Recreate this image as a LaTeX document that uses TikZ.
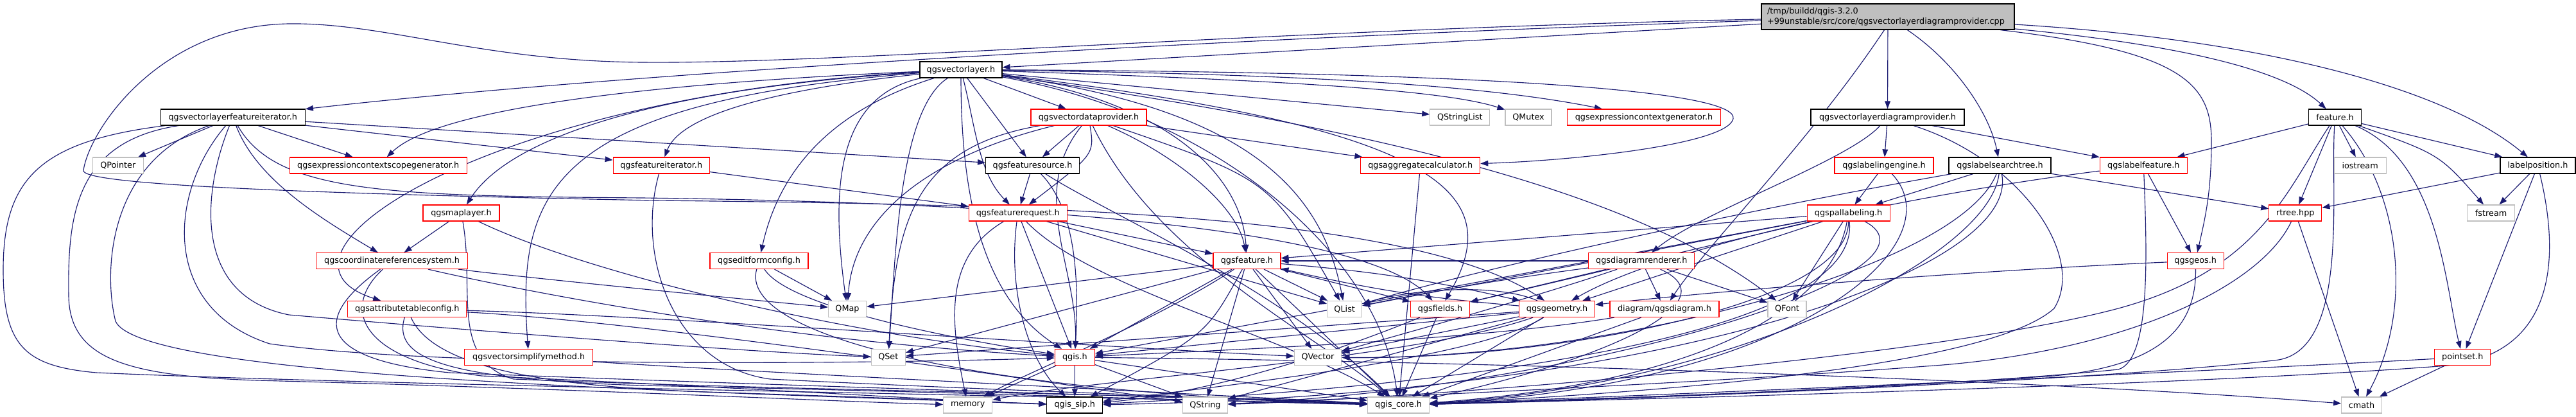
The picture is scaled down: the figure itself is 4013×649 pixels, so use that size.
\documentclass[tikz,border=0pt]{standalone}
\usepackage{fontspec}
\setmainfont{DejaVu Sans}
\usetikzlibrary{arrows.meta}
\pgfdeclarelayer{background}
\pgfsetlayers{background,main}
\definecolor{edgec}{HTML}{191970}
\definecolor{redc}{HTML}{FF0000}
\definecolor{grayc}{HTML}{BFBFBF}
\tikzset{
  box/.style={draw, fill=white, line width=0.9pt, inner sep=0pt, minimum height=18.75pt, font=\fontsize{9.6pt}{11.3pt}\selectfont},
  nb/.style={box, draw=black},
  nr/.style={box, draw=redc},
  ng/.style={box, draw=grayc},
  e/.style={draw=edgec, line width=0.85pt, -{Triangle[length=9pt,width=6.5pt]}},
}
\newcommand\nd[6]{\node[#1, minimum width=#5*0.75pt] (#2) at (#3,#4) {#6};}
\begin{document}
\begin{tikzpicture}[x=0.75pt,y=-0.75pt]
\useasboundingbox (0,0) rectangle (4013,649);
% row 0
\node[nb, fill=grayc, inner xsep=6.75pt, text width=282pt, minimum height=30pt, align=left] (top) at (2941,26) {/tmp/buildd/qgis-3.2.0\\+99unstable/src/core/qgsvectorlayerdiagramprovider.cpp};
% row 1
\nd{nb}{vlayer}{1497}{108.5}{128}{qgsvectorlayer.h}
% row 2
\nd{nb}{vlfi}{362.8}{182.5}{225}{qgsvectorlayerfeatureiterator.h}
\nd{nr}{vdp}{1696}{182.5}{180}{qgsvectordataprovider.h}
\nd{ng}{qstringlist}{2274.3}{182.5}{93}{QStringList}
\nd{ng}{qmutex}{2381}{182.5}{72}{QMutex}
\nd{nr}{exprcg}{2561}{182.5}{239}{qgsexpressioncontextgenerator.h}
\nd{nb}{vldp}{2940.5}{182.5}{239}{qgsvectorlayerdiagramprovider.h}
\nd{nb}{featureh}{3637.6}{182.5}{82}{feature.h}
% row 3
\nd{ng}{qpointer}{183.8}{257.5}{79}{QPointer}
\nd{nr}{scopegen}{589.2}{257.5}{276}{qgsexpressioncontextscopegenerator.h}
\nd{nr}{fiter}{1030.2}{257.5}{150}{qgsfeatureiterator.h}
\nd{nb}{fsource}{1608.6}{257.5}{146}{qgsfeaturesource.h}
\nd{nr}{aggr}{2212.7}{257.5}{186}{qgsaggregatecalculator.h}
\nd{nr}{lengine}{2935}{257.5}{154}{qgslabelingengine.h}
\nd{nb}{lstree}{3115.5}{257.5}{159}{qgslabelsearchtree.h}
\nd{nr}{lfeature}{3339.3}{257.5}{136}{qgslabelfeature.h}
\nd{ng}{iostream}{3676.6}{257.5}{81}{iostream}
\nd{nb}{lposition}{3953.5}{257.5}{117}{labelposition.h}
% row 4
\nd{nr}{maplayer}{718.5}{331.5}{119}{qgsmaplayer.h}
\nd{nr}{frequest}{1585.8}{331.5}{153}{qgsfeaturerequest.h}
\nd{nr}{pallab}{2879.6}{331.5}{129}{qgspallabeling.h}
\nd{nr}{rtree}{3575.8}{331.5}{82}{rtree.hpp}
\nd{ng}{fstream}{3880.6}{331.5}{74}{fstream}
% row 5
\nd{nr}{crs}{610.6}{406}{236}{qgscoordinatereferencesystem.h}
\nd{nr}{editform}{1182.5}{406}{153}{qgseditformconfig.h}
\nd{nr}{qgsfeature}{1942.4}{406}{105}{qgsfeature.h}
\nd{nr}{drenderer}{2557.3}{406}{165}{qgsdiagramrenderer.h}
\nd{nr}{geos}{3420.2}{406}{88}{qgsgeos.h}
% row 6
\nd{nr}{atc}{634.3}{481}{185}{qgsattributetableconfig.h}
\nd{ng}{qmap}{1320}{481}{59}{QMap}
\nd{ng}{qlist}{2094.7}{481}{54}{QList}
\nd{nr}{fields}{2243.6}{481}{92}{qgsfields.h}
\nd{nr}{geometry}{2425.5}{481}{118}{qgsgeometry.h}
\nd{nr}{diagram}{2593}{481}{170}{diagram/qgsdiagram.h}
\nd{ng}{qfont}{2784}{481}{60}{QFont}
% row 7
\nd{nr}{vsimplify}{823.7}{556}{200}{qgsvectorsimplifymethod.h}
\nd{ng}{qset}{1383.8}{556}{53}{QSet}
\nd{nr}{qgish}{1674.4}{556}{62}{qgis.h}
\nd{ng}{qvector}{2053}{556}{73.5}{QVector}
\nd{nr}{pointset}{3836.3}{556}{87}{pointset.h}
% row 8
\nd{ng}{memory}{1507.8}{630.5}{76}{memory}
\nd{nb}{qgissip}{1674.3}{630.5}{87}{qgis\_sip.h}
\nd{ng}{qstring}{1877.4}{630.5}{70}{QString}
\nd{ng}{qgiscore}{2178.6}{630.5}{96}{qgis\_core.h}
\nd{ng}{cmath}{3679}{630.5}{62.5}{cmath}

\begin{pgfonlayer}{background}
% top
\draw[e] (top) -- (vlayer);
\draw[e] (top) .. controls (2000,55) and (1000,110) .. (vlfi);
\draw[e] (top) .. controls (2000,45) and (1300,100) .. (1000,97) .. controls (750,95) and (600,35) .. (450,37) .. controls (250,40) and (140,200) .. (130,265) .. controls (125,285) and (400,300) .. (1020,312) .. controls (1600,318) and (2200,330) .. (geometry);
\draw[e] (top) -- (vldp);
\draw[e] (top) .. controls (3050,100) and (3100,180) .. (lstree);
\draw[e] (top.255) .. controls (2820,220) and (2660,380) .. (diagram);
\draw[e] (top) .. controls (3400,80) and (3445,130) .. (3445,220) .. controls (3445,300) and (3435,340) .. (geos);
\draw[e] (top) .. controls (3400,70) and (3560,110) .. (featureh);
\draw[e] (top) .. controls (3500,60) and (3800,130) .. (lposition);
% vlayer
\draw[e] (vlayer) .. controls (1000,140) and (790,220) .. (maplayer);
\draw[e] (vlayer) .. controls (1000,130) and (680,170) .. (scopegen);
\draw[e] (vlayer) .. controls (1200,140) and (1060,180) .. (fiter);
\draw[e] (vlayer) -- (fsource);
\draw[e] (vlayer) .. controls (1520,200) and (1525,270) .. (frequest);
\draw[e] (vlayer) -- (vdp);
\draw[e] (vlayer) -- (qstringlist);
\draw[e] (vlayer) .. controls (2000,125) and (2250,140) .. (qmutex);
\draw[e] (vlayer) .. controls (2000,115) and (2300,130) .. (exprcg);
\draw[e] (vlayer) .. controls (2300,112) and (2710,140) .. (2700,185) .. controls (2690,225) and (2450,250) .. (aggr);
\draw[e] (vlayer) .. controls (1300,170) and (1215,260) .. (editform);
\draw[e] (vlayer) .. controls (750,150) and (380,400) .. (atc);
\draw[e] (vlayer) .. controls (850,160) and (805,300) .. (vsimplify);
\draw[e] (vlayer) .. controls (1300,150) and (1295,300) .. (qmap);
\draw[e] (vlayer) .. controls (1400,170) and (1395,400) .. (qset);
\draw[e] (vlayer) .. controls (1497,330) and (1540,470) .. (qgish);
\draw[e] (vlayer) .. controls (1830,160) and (1935,280) .. (qgsfeature);
\draw[e] (vlayer) .. controls (1950,170) and (2060,300) .. (qlist);
\draw[e] (vlayer) .. controls (2250,200) and (2350,300) .. (fields);
\draw[e] (vlayer) .. controls (2150,200) and (2550,300) .. (qfont);
\draw[e] (vlayer) .. controls (1900,180) and (2150,400) .. (qgiscore);
% vdp
\draw[e] (vdp) -- (fsource);
\draw[e] (vdp) .. controls (1705,240) .. (frequest);
\draw[e] (vdp) -- (aggr);
\draw[e] (vdp) .. controls (1850,250) and (1930,330) .. (qgsfeature);
\draw[e] (vdp) .. controls (1420,230) and (1395,350) .. (qset);
\draw[e] (vdp) .. controls (1460,240) and (1330,330) .. (qmap);
\draw[e] (vdp) .. controls (1600,300) and (1680,420) .. (qgish);
\draw[e] (vdp) .. controls (1980,280) .. (qlist);
\draw[e] (vdp) .. controls (1800,400) and (2050,520) .. (qgiscore);
% vlfi
\draw[e] (vlfi) -- (qpointer);
\draw[e] (vlfi) -- (scopegen);
\draw[e] (vlfi) -- (fiter);
\draw[e] (vlfi) -- (fsource);
\draw[e] (vlfi) .. controls (400,280) and (500,340) .. (crs);
\draw[e] (vlfi) .. controls (60,220) and (5,280) .. (5,420) .. controls (5,540) and (40,570) .. (150,580) .. controls (600,600) and (1600,615) .. (qgiscore);
\draw[e] (vlfi) .. controls (120,220) and (105,330) .. (107,460) .. controls (108,560) and (200,585) .. (400,592) .. controls (900,605) and (1300,625) .. (memory);
\draw[e] (vlfi) .. controls (315,300) and (300,460) .. (450,490) .. controls (800,520) and (1200,550) .. (qset);
\draw[e] (vlfi) .. controls (262,300) and (250,480) .. (420,535) .. controls (700,575) and (1400,565) .. (qgish);
\draw[e] (vlfi) .. controls (430,300) and (600,305) .. (1000,308) .. controls (1800,318) and (2150,380) .. (fields);
\draw[e] (vlfi) .. controls (170,250) and (160,420) .. (180,500) .. controls (220,590) and (1100,610) .. (qgissip);
% fiter
\draw[e] (fiter) -- (frequest);
\draw[e] (fiter) .. controls (990,400) and (1050,570) .. (1200,590) .. controls (1600,610) and (1950,620) .. (qgiscore);
% fsource
\draw[e] (fsource) -- (frequest);
\draw[e] (fsource) .. controls (1680,330) and (1680,450) .. (qgish);
\draw[e] (fsource) .. controls (1720,330) and (2000,450) .. (qgiscore);
% frequest
\draw[e] (frequest) -- (qgsfeature);
\draw[e] (frequest) .. controls (1470,400) and (1480,500) .. (memory);
\draw[e] (frequest) .. controls (1570,450) and (1600,560) .. (qgissip);
\draw[e] (frequest) .. controls (1700,450) and (2000,520) .. (qgiscore);
\draw[e] (frequest) -- (qlist);
\draw[e] (frequest) -- (qgish);
% maplayer
\draw[e] (maplayer) -- (crs);
\draw[e] (maplayer) .. controls (740,450) and (700,560) .. (800,590) .. controls (1300,610) and (1900,615) .. (qgiscore);
\draw[e] (maplayer) .. controls (900,420) and (1300,520) .. (qgish);
% crs
\draw[e] (crs) .. controls (800,430) and (1100,460) .. (qmap);
\draw[e] (crs) .. controls (800,450) and (1200,530) .. (qgish);
\draw[e] (crs) .. controls (480,500) and (500,560) .. (700,580) .. controls (1200,600) and (1900,620) .. (qgiscore);
\draw[e] (crs) .. controls (530,480) and (560,560) .. (750,585) .. controls (1100,600) and (1500,625) .. (qgissip);
% editform
\draw[e] (editform) -- (qmap);
\draw[e] (editform) .. controls (1230,480) and (1500,530) .. (qgish);
\draw[e] (editform) .. controls (1150,520) and (1500,610) .. (qgiscore);
% atc
\draw[e] (atc) .. controls (610,560) and (700,590) .. (1000,600) .. controls (1500,610) and (1900,625) .. (qgiscore);
\draw[e] (atc) .. controls (670,560) and (800,600) .. (1100,610) .. controls (1400,620) .. (qgissip);
\draw[e] (atc) .. controls (1000,500) and (1600,590) .. (qstring);
\draw[e] (atc) .. controls (1000,490) and (1700,540) .. (qvector);
% vsimplify
\draw[e] (vsimplify) .. controls (1100,575) and (1900,615) .. (qgiscore);
% aggr
\draw[e] (aggr) -- (qgiscore);
% qgsfeature
\draw[e] (qgsfeature) -- (qlist);
\draw[e] (qgsfeature) -- (qmap);
\draw[e] (qgsfeature) -- (qset);
\draw[e] (qgsfeature) -- (qgish);
\draw[e] (qgsfeature) -- (qstring);
\draw[e] (qgsfeature) -- (qgiscore);
\draw[e] (qgsfeature) .. controls (1880,520) .. (qgissip);
\draw[e] (qgsfeature) -- (qvector);
\draw[e] (qgsfeature) -- (fields);
\draw[e] (qgsfeature) to[bend left=4] (geometry);
\draw[e] (qgsfeature) .. controls (1800,500) and (1600,580) .. (memory);
% geometry
\draw[e] (geometry) to[bend left=4] (qgsfeature);
\draw[e] (geometry) -- (qgiscore);
\draw[e] (geometry) .. controls (2300,560) and (1900,600) .. (qgissip);
\draw[e] (geometry) -- (qgish);
\draw[e] (geometry) -- (qvector);
\draw[e] (geometry) -- (qstring);
\draw[e] (geometry) -- (qset);
\draw[e] (geometry) .. controls (2200,560) and (1700,590) .. (memory);
\draw[e] (geometry) .. controls (2330,440) and (2200,450) .. (qlist);
% fields
\draw[e] (fields) -- (qgiscore);
\draw[e] (fields) .. controls (2100,540) and (1900,610) .. (qgissip);
% diagram
\draw[e] (diagram) -- (qgiscore);
\draw[e] (diagram) .. controls (2300,530) and (1900,545) .. (qgish);
% drenderer
\draw[e] (drenderer) .. controls (2300,440) and (2200,460) .. (qlist);
\draw[e] (drenderer) -- (fields);
\draw[e] (drenderer) .. controls (2400,460) and (2150,530) .. (qvector);
\draw[e] (drenderer) -- (diagram);
\draw[e] (drenderer) -- (qfont);
\draw[e] (drenderer) .. controls (2700,470) and (2500,560) .. (qgiscore);
\draw[e] (drenderer) -- (qgsfeature);
% pallab
\draw[e] (pallab) -- (qgsfeature);
\draw[e] (pallab) -- (qlist);
\draw[e] (pallab) -- (fields);
\draw[e] (pallab) -- (qgish);
\draw[e] (pallab) -- (geometry);
\draw[e] (pallab) -- (qfont);
\draw[e] (pallab) .. controls (2850,500) and (2600,600) .. (qgiscore);
\draw[e] (pallab) .. controls (2900,520) and (2300,600) .. (qgissip);
\draw[e] (pallab) .. controls (3050,420) and (2500,600) .. (qstring);
\draw[e] (pallab) .. controls (2880,480) and (2400,560) .. (qvector);
% lengine
\draw[e] (lengine) -- (pallab);
\draw[e] (lengine) .. controls (3050,380) and (2800,600) .. (qgiscore);
% lstree
\draw[e] (lstree) -- (pallab);
\draw[e] (lstree) -- (rtree);
\draw[e] (lstree) .. controls (2700,330) and (2300,420) .. (qlist);
\draw[e] (lstree) .. controls (3050,420) and (2500,560) .. (qvector);
\draw[e] (lstree) .. controls (3100,400) and (2700,600) .. (qgiscore);
\draw[e] (lstree) .. controls (3150,420) and (2600,615) .. (qgissip);
% lfeature
\draw[e] (lfeature) .. controls (3000,300) and (2600,380) .. (geometry);
\draw[e] (lfeature) -- (geos);
\draw[e] (lfeature) .. controls (3345,400) and (3350,560) .. (3300,575) .. controls (3000,605) and (2500,620) .. (qgiscore);
% geos
\draw[e] (geos) .. controls (3100,420) and (2700,450) .. (geometry);
\draw[e] (geos) .. controls (3422,520) and (3350,570) .. (3200,585) .. controls (2900,605) and (2500,622) .. (qgiscore);
% vldp
\draw[e] (vldp) -- (lengine);
\draw[e] (vldp) -- (lfeature);
\draw[e] (vldp) .. controls (2880,250) and (2650,330) .. (drenderer);
\draw[e] (vldp) .. controls (3150,250) and (3250,400) .. (3200,480) .. controls (3100,570) and (2600,610) .. (qgiscore);
% featureh
\draw[e] (featureh) -- (lfeature);
\draw[e] (featureh) -- (rtree);
\draw[e] (featureh) -- (iostream);
\draw[e] (featureh) -- (lposition);
\draw[e] (featureh) .. controls (3800,240) .. (fstream);
\draw[e] (featureh) .. controls (3800,250) and (3810,450) .. (pointset);
\draw[e] (featureh) .. controls (3740,300) and (3760,480) .. (cmath);
\draw[e] (featureh) .. controls (3630,300) and (3660,540) .. (3550,560) .. controls (3300,590) and (2600,620) .. (qgiscore);
\draw[e] (featureh) .. controls (3560,300) and (3520,420) .. (3300,480) .. controls (3000,560) and (2200,620) .. (qstring);
% lposition
\draw[e] (lposition) -- (rtree);
\draw[e] (lposition) -- (fstream);
\draw[e] (lposition) -- (pointset);
\draw[e] (lposition) .. controls (4000,450) and (3950,560) .. (3800,570) .. controls (3400,600) and (2600,620) .. (qgiscore);
% rtree
\draw[e] (rtree) -- (cmath);
\draw[e] (rtree) .. controls (3520,450) and (3300,550) .. (3000,570) .. controls (2600,600) and (2100,620) .. (qstring);
% pointset
\draw[e] (pointset) -- (cmath);
\draw[e] (pointset) .. controls (3400,580) and (2700,610) .. (qgiscore);
% qgish
\draw[e] (qgish) -- (memory);
\draw[e] (qgish) -- (qgissip);
\draw[e] (qgish) -- (qstring);
\draw[e] (qgish) -- (qgiscore);
\draw[e] (qgish) .. controls (2500,565) and (3300,600) .. (cmath);
\end{pgfonlayer}
\end{tikzpicture}
\end{document}
